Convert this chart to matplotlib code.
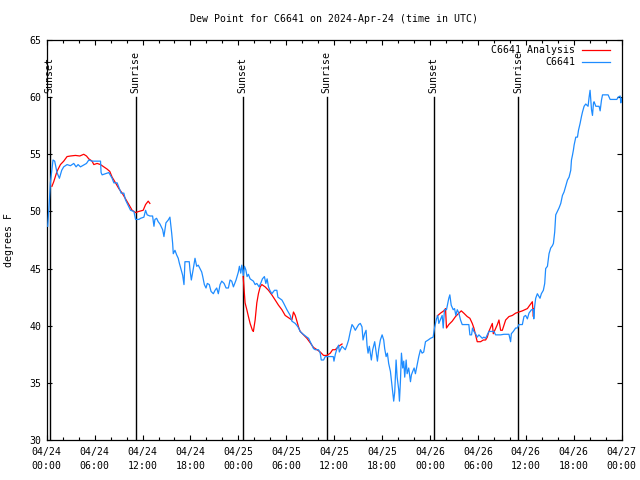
# Taupunkt C6641, Messung und Analyse, 24.-27. April 2024 (UTC)

import numpy as np
import pandas as pd
import matplotlib
matplotlib.use('Agg')
import matplotlib.pyplot as plt
import matplotlib.dates as mdates

# Stunden seit 2024-04-24 00:00 UTC und Taupunkt (F) der Station
stunden_station = [
    0.13, 0.34, 0.46, 0.79, 1.00, 1.29, 1.59, 1.88, 2.13, 2.55, 2.97, 3.39, 3.68, 3.93, 4.23,
    4.98, 5.27, 5.68, 6.74, 6.81, 6.94, 7.78, 8.19, 8.41, 8.82, 9.32, 9.66, 9.87, 10.08, 10.50,
    10.92, 11.13, 11.54, 11.76, 12.17, 12.38, 12.58, 12.92, 13.26, 13.43, 13.55, 13.76, 13.96,
    14.18, 14.52, 14.68, 14.93, 15.22, 15.43, 15.65, 15.77, 15.85, 16.06, 16.27, 16.47, 16.60,
    17.03, 17.19, 17.31, 17.85, 17.94, 18.11, 18.36, 18.57, 18.78, 18.98, 19.20, 19.41, 19.54,
    19.74, 19.95, 20.11, 20.36, 20.58, 20.87, 21.08, 21.29, 21.49, 21.71, 21.92, 22.21, 22.46,
    22.75, 22.96, 23.17, 23.38, 23.71, 24.00, 24.13, 24.30, 24.43, 24.63, 24.76, 24.93, 25.09,
    25.26, 25.47, 25.68, 25.88, 26.10, 26.31, 26.60, 26.85, 27.01, 27.26, 27.44, 27.60, 27.77,
    27.94, 28.19, 28.52, 28.82, 28.95, 29.45, 29.65, 30.08, 30.49, 30.70, 31.12, 31.46, 31.74,
    32.03, 32.58, 32.79, 33.00, 33.21, 33.41, 33.63, 34.04, 34.25, 34.38, 34.67, 34.88, 35.29,
    35.88, 35.97, 36.14, 36.35, 36.55, 36.64, 36.98, 37.39, 37.60, 37.80, 38.02, 38.23, 38.43,
    38.64, 39.06, 39.27, 39.48, 39.61, 39.81, 39.99, 40.11, 40.24, 40.40, 40.65, 40.82, 41.07,
    41.41, 41.57, 41.78, 42.00, 42.20, 42.32, 42.50, 42.66, 42.82, 43.04, 43.25, 43.45, 43.58,
    43.75, 43.88, 44.08, 44.17, 44.29, 44.42, 44.58, 44.71, 44.83, 45.01, 45.13, 45.33, 45.55,
    45.67, 45.83, 46.01, 46.17, 46.39, 46.59, 46.80, 47.01, 47.21, 47.43, 47.77, 48.06, 48.39,
    48.56, 48.81, 48.97, 49.10, 49.52, 49.65, 49.81, 50.06, 50.23, 50.35, 50.48, 50.65, 50.90,
    51.07, 51.23, 51.41, 51.61, 51.82, 52.03, 52.86, 52.99, 53.20, 53.32, 53.49, 53.70, 53.91,
    54.12, 54.54, 54.74, 54.96, 55.17, 55.37, 56.00, 56.21, 56.84, 57.25, 57.88, 58.09, 58.18,
    58.43, 58.72, 58.93, 59.13, 59.56, 59.76, 59.97, 60.19, 60.39, 60.70, 60.94, 60.99, 61.10,
    61.23, 61.44, 61.77, 61.94, 62.19, 62.36, 62.48, 62.70, 62.90, 63.11, 63.32, 63.45, 63.61,
    63.74, 63.95, 64.15, 64.37, 64.58, 64.78, 64.99, 65.21, 65.41, 65.62, 65.71, 65.83, 65.96,
    66.04, 66.25, 66.46, 66.59, 66.79, 66.96, 67.09, 67.29, 67.50, 67.79, 67.92, 68.04, 68.22,
    68.34, 68.47, 68.54, 68.76, 69.17, 69.30, 69.47, 69.60, 70.30, 70.55, 71.39, 71.56, 71.81,
    71.89, 71.98,
]
taupunkt_station = [
    48.7, 51.0, 52.5, 54.5, 54.4, 53.4, 52.9, 53.6, 53.9, 54.1, 54.0, 54.2, 53.9, 54.1, 53.9,
    54.2, 54.5, 54.4, 54.4, 53.4, 53.2, 53.4, 52.9, 52.5, 52.5, 51.6, 51.6, 51.0, 50.7, 50.1,
    50.0, 49.3, 49.3, 49.4, 49.5, 50.1, 49.7, 49.6, 49.6, 48.7, 49.3, 49.4, 49.1,
    48.9, 48.4, 47.8, 49.0, 49.25, 49.5, 48.1, 47.2, 46.3, 46.6, 46.2, 45.9, 45.5,
    44.4, 43.6, 45.6, 45.6, 44.9, 44.0, 45.0, 45.9, 45.2, 45.3, 45.0, 44.7, 44.3,
    43.6, 43.3, 43.7, 43.6, 43.0, 42.8, 43.1, 43.3, 42.8, 43.6, 43.9, 43.7, 43.3,
    43.3, 44.0, 43.9, 43.4, 44.0, 44.7, 45.2, 44.6, 45.3, 44.4, 45.2, 44.9, 44.3,
    44.5, 44.1, 44.0, 43.9, 43.6, 43.7, 43.4, 43.8, 44.1, 44.3, 43.7, 44.1, 43.4,
    43.1, 42.8, 43.1, 43.1, 42.5, 42.25, 42.0, 41.4, 40.9, 40.4, 40.2, 39.9, 39.5,
    39.3, 39.0, 38.9, 38.6, 38.3, 38.0, 37.9, 37.9, 37.6, 37.0, 37.0, 37.3, 37.3,
    37.3, 36.9, 37.5, 38.0, 38.3, 37.7, 38.2, 37.9, 38.3, 38.75, 39.5, 40.1, 39.9,
    39.6, 40.1, 40.2, 39.9, 38.75, 39.3, 39.6, 38.3, 37.6, 38.2, 37.0, 37.9, 38.6,
    36.9, 37.9, 38.75, 39.2, 38.75, 38.0, 37.3, 37.6, 36.7, 36.0, 34.7, 33.4, 34.2,
    37.0, 35.5, 34.4, 33.4, 35.1, 37.6, 36.3, 36.9, 35.5, 37.0, 35.8, 36.3, 35.1,
    35.7, 36.0, 36.3, 35.8, 36.6, 37.3, 37.9, 37.6, 37.7, 38.6, 38.75, 38.9, 39.0,
    39.8, 40.6, 40.9, 40.2, 40.9, 39.8, 41.4, 41.4, 42.0, 42.4, 42.7, 41.8, 41.4,
    41.5, 40.9, 41.4, 41.1, 40.5, 40.1, 40.1, 39.2, 39.2, 39.8, 39.5, 39.3, 39.0,
    39.2, 38.9, 39.0, 38.9, 39.2, 39.5, 39.5, 39.2, 39.2, 39.25, 39.25, 38.6, 39.3,
    39.5, 39.8, 39.8, 40.1, 40.1, 40.8, 40.9, 40.6, 41.1, 41.4, 41.4, 40.6, 41.7,
    42.4, 42.8, 42.4, 42.8, 43.1, 43.7, 45.0, 45.2, 46.3, 46.8, 47.0, 47.2, 48.2,
    49.7, 50.0, 50.3, 50.7, 51.4, 51.7, 52.2, 52.75, 53.0, 53.6, 54.5, 54.9, 55.4,
    55.8, 56.5, 56.5, 57.1, 57.7, 58.3, 58.7, 59.2, 59.4, 59.2, 60.0, 60.6, 58.9,
    58.4, 59.5, 59.6, 59.2, 59.2, 58.8, 59.75, 60.2, 60.2, 59.8, 59.8, 60.0, 60.1,
    59.5, 59.9,
]

# Analyse in drei Abschnitten (Luecken als NaN)
stunden_analyse = [
    0.66, 0.88, 1.29, 1.72, 2.13, 2.55, 2.97, 3.60, 4.14, 4.64, 4.98, 5.27, 5.68, 5.90, 6.31,
    6.74, 7.15, 7.57, 7.90, 8.19, 8.62, 9.03, 9.45, 9.87, 10.29, 10.70, 11.13, 11.54, 12.08,
    12.38, 12.71, 12.92, np.nan,
    24.60, 24.84, 25.06, 25.26, 25.47, 25.76, 25.88, 26.10, 26.31, 26.51, 26.73, 26.94, 27.35,
    27.77, 28.19, 28.61, 29.02, 29.45, 29.86, 30.28, 30.70, 30.90, 31.12, 31.33, 31.53, 31.74,
    32.16, 32.58, 33.00, 33.41, 33.84, 34.25, 34.67, 35.09, 35.51, 35.80, 36.14, 36.55, 36.98,
    np.nan,
    48.90, 49.31, 49.72, 49.94, 50.06, 50.35, 50.78, 51.19, 51.61, 51.91, 52.23, 52.66, 52.99,
    53.29, 53.49, 53.70, 53.91, 54.33, 54.67, 54.96, 55.17, 55.37, 55.80, 55.92, 56.43, 56.63,
    56.84, 57.05, 57.47, 57.88, 58.31, 58.72, 59.56, 60.19, 60.39, 60.60, 60.81, 60.94, 61.02,
]
taupunkt_analyse = [
    52.2, 52.6, 53.5, 54.1, 54.4, 54.8, 54.85, 54.9, 54.85, 55.0, 54.85, 54.6, 54.4, 54.1, 54.2,
    54.1, 53.9, 53.7, 53.5, 53.0, 52.5, 52.0, 51.6, 51.1, 50.6, 50.1, 49.9, 50.0, 50.1,
    50.6, 50.9, 50.7, np.nan,
    44.3, 42.0, 41.4, 40.8, 40.2, 39.6, 39.5, 40.5, 42.0, 42.8, 43.4, 43.6, 43.4,
    43.1, 42.7, 42.25, 41.8, 41.4, 40.9, 40.7, 40.5, 41.2, 40.9, 40.4, 39.9, 39.5,
    39.2, 38.9, 38.5, 38.1, 37.9, 37.7, 37.4, 37.4, 37.6, 37.9, 37.9, 38.2, 38.4,
    np.nan,
    40.85, 41.1, 41.3, 41.5, 39.8, 40.1, 40.4, 40.8, 41.1, 41.3, 41.1, 40.8, 40.65,
    40.2, 39.8, 39.2, 38.6, 38.6, 38.75, 38.75, 39.0, 39.5, 40.2, 39.3, 40.1, 40.5,
    39.6, 39.6, 40.5, 40.8, 40.9, 41.1, 41.3, 41.5, 41.7, 41.9, 42.1, 40.8, 41.5,
]

# Sonnenauf-/untergang (Stunden seit Start)
sonne_stunden = [0.38, 11.13, 24.53, 35.04, 48.47, 59.0]
sonne_text = ['Sunset', 'Sunrise', 'Sunset', 'Sunrise', 'Sunset', 'Sunrise']

start = pd.Timestamp('2024-04-24 00:00')
zeit = lambda h: start + pd.to_timedelta(np.array(h, dtype=float), unit='h')

plt.rcParams['font.family'] = 'DejaVu Sans Mono'
plt.rcParams['font.size'] = 7.1

fig = plt.figure(figsize=(6.4, 4.8), dpi=100)
ax = fig.add_axes([46.7 / 640, 40 / 480, 575 / 640, 400 / 480])

# Sonnenlinien mit Beschriftung
for h, txt in zip(sonne_stunden, sonne_text):
    t = zeit([h])[0]
    ax.plot([t, t], [30, 60], color='black', lw=1.0, zorder=1)
    ax.text(t, 60.35, txt, rotation=90, ha='center', va='bottom', fontsize=7.1)

ax.plot(zeit(stunden_analyse), taupunkt_analyse, color='#ff0000', lw=0.9, label='C6641 Analysis', zorder=2)
ax.plot(zeit(stunden_station), taupunkt_station, color='#1e8cff', lw=0.9, label='C6641', zorder=3)

ax.set_xlim(start, start + pd.Timedelta(hours=72))
ax.set_ylim(30, 65)
ax.set_yticks(range(30, 66, 5))

ax.xaxis.set_major_locator(mdates.HourLocator(byhour=[0, 6, 12, 18]))
ax.xaxis.set_minor_locator(mdates.HourLocator(byhour=range(0, 24, 2)))
ax.xaxis.set_major_formatter(mdates.DateFormatter('%m/%d\n%H:%M'))

ax.tick_params(which='both', direction='in', top=True, right=True, width=0.8)
ax.tick_params(which='major', length=3.4)
ax.tick_params(which='minor', length=2.0)
ax.tick_params(axis='x', pad=5)
ax.tick_params(axis='y', pad=4)
for s in ax.spines.values():
    s.set_linewidth(0.9)

fig.canvas.draw()
for lbl in ax.get_xticklabels():
    lbl.set_linespacing(1.45)

ax.set_title('Dew Point for C6641 on 2024-Apr-24 (time in UTC)', fontsize=7.1, pad=13)
ax.set_ylabel('degrees F')
ax.yaxis.set_label_coords(-0.057, 0.5)

# Legende rechts oben, Linie rechts vom Text (wie gnuplot)
ax.legend(loc='upper right', bbox_to_anchor=(0.979, 0.9875), frameon=False, markerfirst=False,
          handlelength=2.8, handletextpad=0.7, borderaxespad=0, borderpad=0,
          labelspacing=0.25, fontsize=7.1)

plt.savefig('out.png', dpi=100)
